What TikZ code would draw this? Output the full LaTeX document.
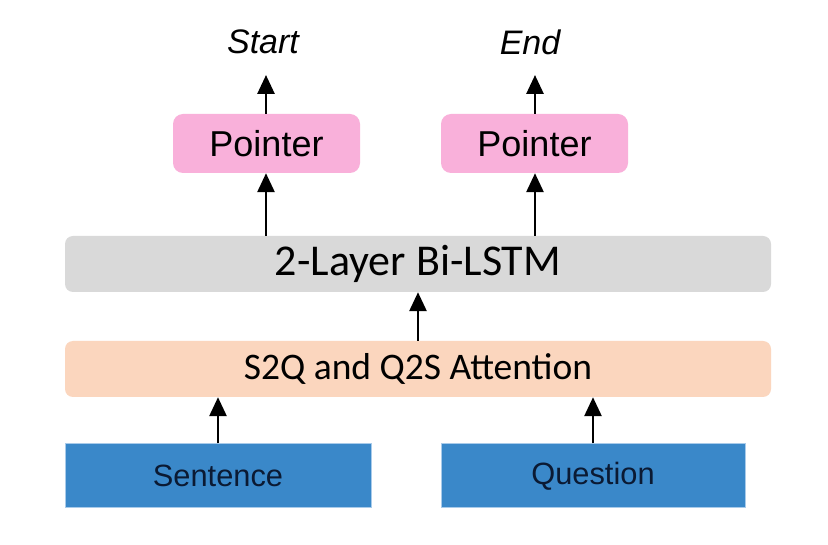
\documentclass[tikz,border=0pt]{standalone}
\usepackage{fontspec}
\setmainfont{Liberation Sans}
\newfontfamily\calib{Carlito}
\usetikzlibrary{arrows.meta}
\definecolor{pinkc}{HTML}{F9B0DA}
\definecolor{grayc}{HTML}{D9D9D9}
\definecolor{peachc}{HTML}{FBD6BE}
\definecolor{bluec}{HTML}{3A88C9}
\definecolor{blueb}{HTML}{A9CBEA}
\definecolor{navyc}{HTML}{0B1A33}
\begin{document}
\begin{tikzpicture}[x=1pt,y=1pt,
  arr/.style={line width=2.8pt,-{Triangle[width=17pt,length=19pt]}},
  ptr/.style={fill=pinkc,rounded corners=10pt,minimum width=187pt,minimum height=59pt,inner sep=0pt,font=\fontsize{36}{42}\selectfont},
  wide/.style={rounded corners=8pt,minimum width=706pt,minimum height=56pt,inner sep=0pt},
  inp/.style={fill=bluec,draw=blueb,line width=1pt,minimum height=64pt,inner sep=0pt,text=navyc,font=\fontsize{30.8}{36}\selectfont},
  lab/.style={inner sep=0pt,font=\itshape\fontsize{34}{40}\selectfont}]
\useasboundingbox (0,0) rectangle (828,544);
\fill[white] (0,0) rectangle (828,544);
\node[lab] (start) at (263,502) {Start};
\node[lab] (end) at (530,502) {End};
\node[ptr] (p1) at (266.5,400.5) {Pointer};
\node[ptr] (p2) at (534.5,400.5) {Pointer};
\node[wide,fill=grayc,font=\calib\fontsize{44}{50}\selectfont] (lstm) at (418,280) {2-Layer Bi-LSTM};
\node[wide,fill=peachc,font=\calib\fontsize{37.5}{44}\selectfont] (att) at (418,175) {S2Q and Q2S Attention};
\node[inp,minimum width=306pt] (sent) at (218,68) {Sentence};
\node[inp,minimum width=304pt] (ques) at (593,68) {Question};
\coordinate (st) at (266,469);
\coordinate (en) at (535,469);
\draw[arr] (p1.north -| st) -- (st);
\draw[arr] (p2.north -| en) -- (en);
\draw[arr] (lstm.north -| st) -- (p1.south -| st);
\draw[arr] (lstm.north -| en) -- (p2.south -| en);
\draw[arr] (att.north) -- (lstm.south);
\draw[arr] (sent.north) -- (sent.north |- att.south);
\draw[arr] (ques.north) -- (ques.north |- att.south);
\end{tikzpicture}
\end{document}
